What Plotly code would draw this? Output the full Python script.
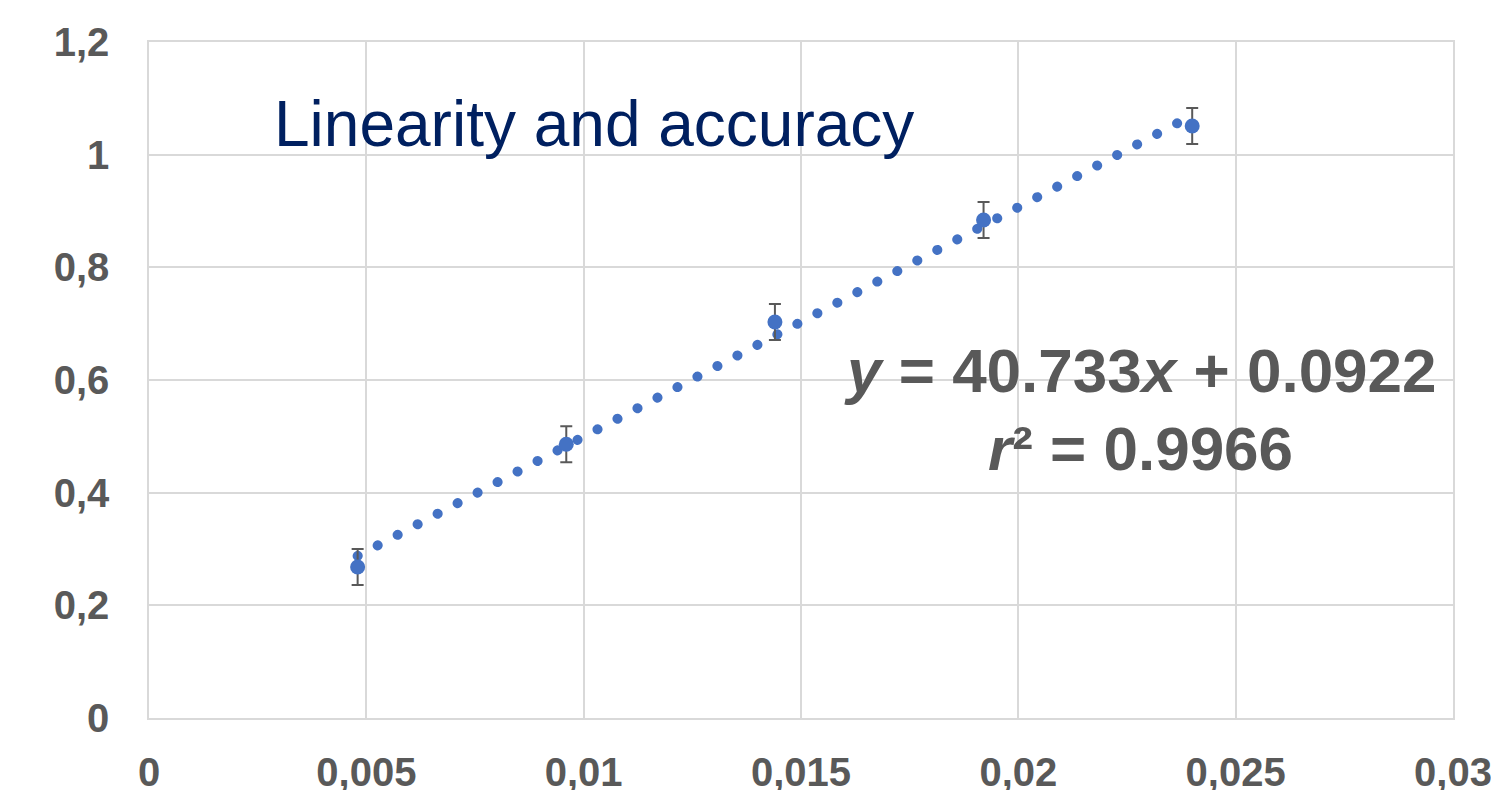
import plotly.graph_objects as go

# ---- data ----
concentration = [0.0048, 0.0096, 0.0144, 0.0192, 0.024]
response = [0.268, 0.486, 0.703, 0.884, 1.051]
response_err = [0.032, 0.032, 0.032, 0.032, 0.032]

slope = 40.733
intercept = 0.0922
r_squared = 0.9966

x_ticks = [0, 0.005, 0.01, 0.015, 0.02, 0.025, 0.03]
x_tick_labels = ["0", "0,005", "0,01", "0,015", "0,02", "0,025", "0,03"]
y_ticks = [0, 0.2, 0.4, 0.6, 0.8, 1.0, 1.2]
y_tick_labels = ["0", "0,2", "0,4", "0,6", "0,8", "1", "1,2"]

title_text = "Linearity and accuracy"

# ---- style ----
BLUE = "#4472C4"
GRAY = "#595959"
GRID = "#D9D9D9"
NAVY = "#002060"
FONT = "Liberation Sans, Arial, sans-serif"

trend_x = [concentration[0], concentration[-1]]
trend_y = [slope * v + intercept for v in trend_x]

fig = go.Figure()

# trendline (dotted)
fig.add_trace(go.Scatter(
    x=trend_x, y=trend_y, mode="lines",
    line=dict(color=BLUE, width=10, dash="0.1px,22.5px"),
    hoverinfo="skip", showlegend=False,
))

# data points with error bars
fig.add_trace(go.Scatter(
    x=concentration, y=response, mode="markers",
    marker=dict(color=BLUE, size=15),
    error_y=dict(type="data", array=response_err, visible=True,
                 color=GRAY, thickness=2, width=6),
    showlegend=False,
))

fig.update_layout(
    width=1491, height=790,
    margin=dict(l=149, r=38, t=42, b=72, autoexpand=False),
    paper_bgcolor="white", plot_bgcolor="white",
    font=dict(family=FONT, color=GRAY),
    showlegend=False,
)

fig.update_xaxes(
    range=[0, 0.03], tickvals=x_ticks, ticktext=x_tick_labels,
    showgrid=True, gridcolor=GRID, gridwidth=1.5,
    showline=True, linecolor=GRID, linewidth=1.5, mirror=True,
    zeroline=False, ticks="", ticklabelstandoff=18,
    automargin=False, ticklabeloverflow="allow",
    tickfont=dict(family=FONT, size=40, color=GRAY, weight="bold"),
)
fig.update_yaxes(
    range=[0, 1.2], tickvals=y_ticks, ticktext=y_tick_labels,
    showgrid=True, gridcolor=GRID, gridwidth=1.5,
    showline=True, linecolor=GRID, linewidth=1.5, mirror=True,
    zeroline=False, ticks="", ticklabelstandoff=30,
    automargin=False, ticklabeloverflow="allow",
    tickfont=dict(family=FONT, size=40, color=GRAY, weight="bold"),
)

fig.add_annotation(
    x=0.00283, y=1.054, xref="x", yref="y", xanchor="left", yanchor="middle",
    text=title_text, showarrow=False,
    font=dict(family=FONT, size=64, color=NAVY),
)
fig.add_annotation(
    x=0.0228, y=0.616, xref="x", yref="y", xanchor="center", yanchor="middle",
    text="<b><i>y</i> = %.3f<i>x</i> + %.4f</b>" % (slope, intercept),
    showarrow=False, font=dict(family=FONT, size=62, color=GRAY),
)
fig.add_annotation(
    x=0.0228, y=0.479, xref="x", yref="y", xanchor="center", yanchor="middle",
    text="<b><i>r</i>\u00b2 = %.4f</b>" % r_squared,
    showarrow=False, font=dict(family=FONT, size=62, color=GRAY),
)

post = """
document.body.style.margin = '0';
var gd = document.getElementById('{plot_id}');
var tr = gd.querySelectorAll('.scatterlayer .trace')[0];
if (tr) { tr.querySelectorAll('path').forEach(function(p){ p.style.strokeLinecap = 'round'; }); }
"""

fig.write_html("out.html", post_script=post, config={"displayModeBar": False})
